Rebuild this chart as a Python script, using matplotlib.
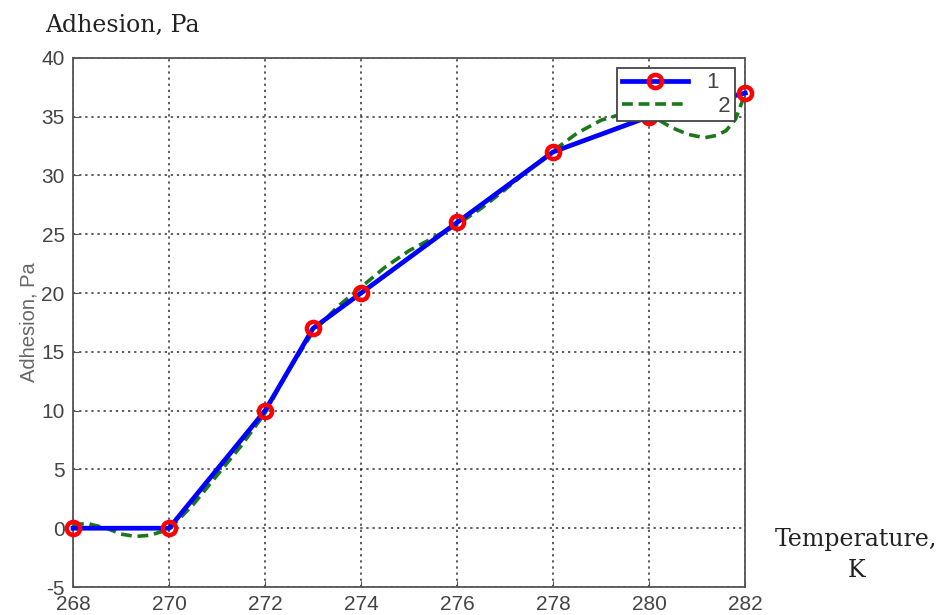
import numpy as np
import matplotlib
matplotlib.use("Agg")
from matplotlib import pyplot as plt

plt.rcParams["axes.unicode_minus"] = False
plt.rcParams["font.family"] = ["Liberation Sans", "DejaVu Sans"]

# measured points (series 1)
temp = [268, 270, 272, 273, 274, 276, 278, 280, 282]
adhesion = [0, 0, 10, 17, 20, 26, 32, 35, 37]

# approximation curve (series 2)
temp_fit = [268, 268.3, 268.7, 269, 269.3, 269.6, 270, 270.5, 271, 271.5, 272,
            272.5, 273, 273.5, 274, 274.5, 275, 275.5, 276, 276.5, 277, 277.5,
            278, 278.5, 279, 279.5, 280, 280.45, 280.8, 281.15, 281.4, 281.6,
            281.8, 282]
adhesion_fit = [0.3, 0.4, 0.0, -0.5, -0.7, -0.6, -0.1, 2.0, 4.5, 7.0, 9.8,
                13.5, 16.7, 18.8, 20.5, 22.2, 23.6, 24.7, 25.8, 27.2, 28.8, 30.5,
                32.1, 33.6, 34.7, 35.3, 35.2, 34.1, 33.5, 33.2, 33.4, 33.8,
                34.8, 37.0]

x_ticks = list(range(268, 283, 2))
y_ticks = list(range(-5, 41, 5))

fig = plt.figure(figsize=(9.41, 6.15), dpi=100)
ax = fig.add_axes([0.0776, 0.0455, 0.7144, 0.8605])

ax.plot(temp_fit, adhesion_fit, color="#1a7a1a", linestyle="--", linewidth=2.6,
        dashes=(3, 1.6), label="2", zorder=3, clip_on=False)
ax.plot(temp, adhesion, color="blue", linewidth=3.4, marker="o", markersize=9.5,
        markerfacecolor="none", markeredgecolor="red", markeredgewidth=3.2,
        label="1", zorder=4, clip_on=False)

ax.set_xlim(268, 282)
ax.set_ylim(-5, 40)
ax.set_xticks(x_ticks)
ax.set_yticks(y_ticks)
ax.tick_params(direction="in", length=4, labelsize=15, labelcolor="#444444",
               color="#555555", pad=6)
ax.grid(True, color="black", linestyle=(0, (1.5, 2.5)), linewidth=1.1, alpha=0.8)
for s in ax.spines.values():
    s.set_color("#555555")
    s.set_linewidth(1.3)

ax.set_ylabel("Adhesion, Pa", fontsize=14.5, color="#666666", labelpad=2)

handles, labels = ax.get_legend_handles_labels()
leg = ax.legend(handles[::-1], ["1", "  2"], loc="upper right",
                bbox_to_anchor=(0.985, 0.981), borderaxespad=0, fontsize=16,
                frameon=True, fancybox=False, framealpha=1, edgecolor="#444444",
                handlelength=3.0, borderpad=0.2, labelspacing=0.12)
leg.get_frame().set_linewidth(1.3)
leg.set_zorder(10)
for t in leg.get_texts():
    t.set_color("#444444")

fig.text(0.048, 0.958, "Adhesion, Pa", fontsize=17, family="DejaVu Serif",
         color="#222222", va="center", ha="left")
fig.text(0.91, 0.097, "Temperature,\nK", fontsize=17, family="DejaVu Serif",
         color="#222222", va="center", ha="center", linespacing=1.45)

fig.savefig("out.png", dpi=100)
